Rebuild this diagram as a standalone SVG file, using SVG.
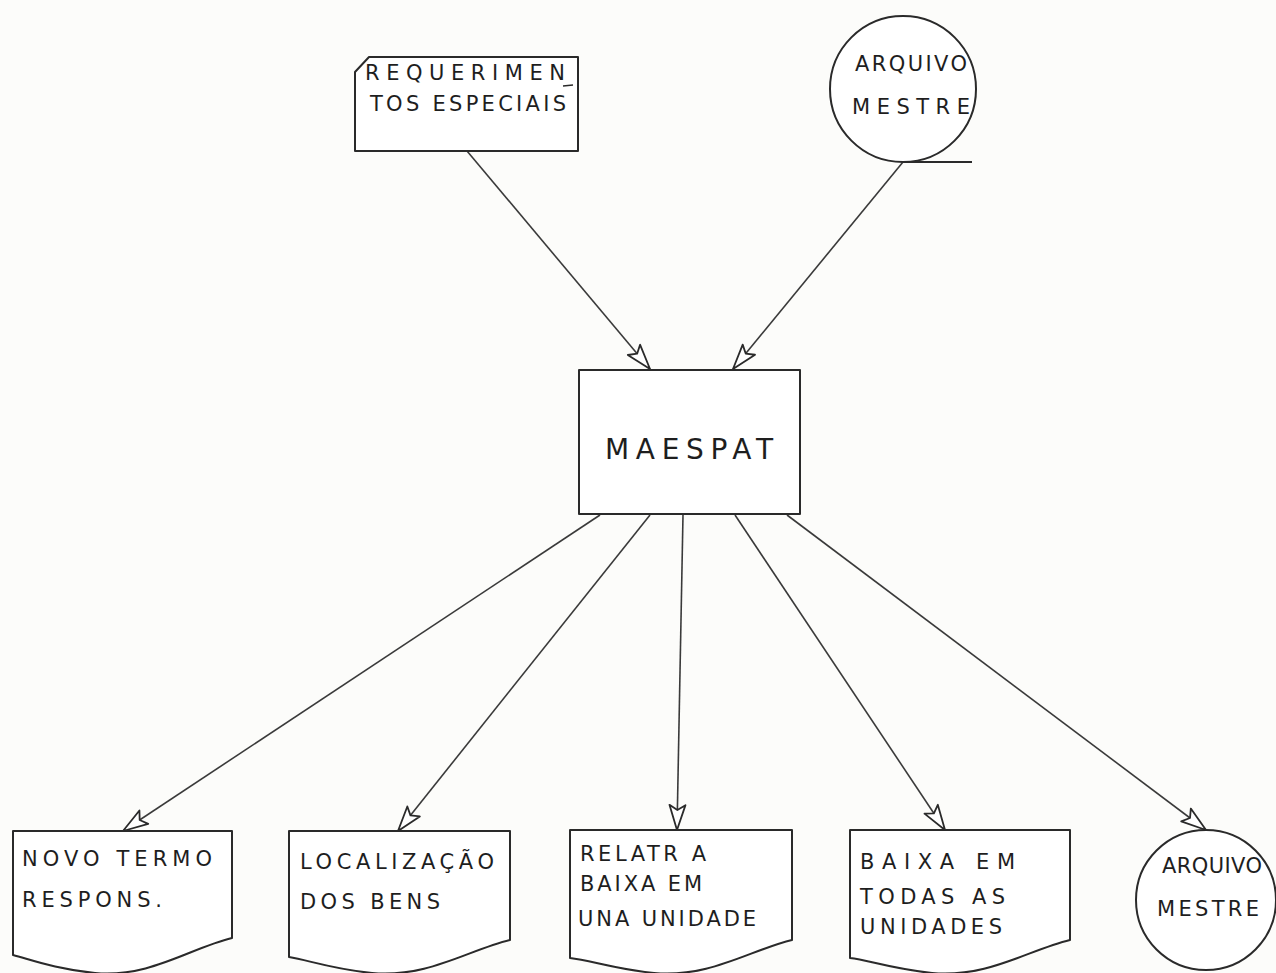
<svg xmlns="http://www.w3.org/2000/svg" width="1276" height="973" viewBox="0 0 1276 973">
  <style>
    .shape { fill: #ffffff; stroke: #2a2a2a; stroke-width: 2; stroke-linejoin: round; }
    .edge { fill: none; stroke: #3a3a3a; stroke-width: 1.6; }
    .lbl { font-family: "DejaVu Sans", "Liberation Sans", sans-serif; font-size: 21px; fill: #1e1e1e; }
    .big { font-family: "DejaVu Sans", "Liberation Sans", sans-serif; font-size: 28px; fill: #1e1e1e; }
  </style>
  <defs>
    <!-- open, kite-shaped arrowhead, tip at the end of the line -->
    <marker id="arrow" markerUnits="userSpaceOnUse" markerWidth="34" markerHeight="22" viewBox="0 0 34 22" refX="30" refY="11" orient="auto">
      <path d="M30,11 L5,3 L10,11 L5,19 Z" fill="#ffffff" stroke="#2a2a2a" stroke-width="1.8" stroke-linejoin="round"/>
    </marker>
  </defs>

  <rect x="0" y="0" width="1276" height="973" fill="#fcfcfa"/>

  <!-- connectors -->
  <g id="connectors">
    <line class="edge" x1="467" y1="151" x2="650" y2="369" marker-end="url(#arrow)"/>
    <line class="edge" x1="903" y1="162" x2="733" y2="369" marker-end="url(#arrow)"/>
    <line class="edge" x1="600" y1="515" x2="123" y2="831" marker-end="url(#arrow)"/>
    <line class="edge" x1="650" y1="515" x2="398" y2="831" marker-end="url(#arrow)"/>
    <line class="edge" x1="683" y1="515" x2="677" y2="830" marker-end="url(#arrow)"/>
    <line class="edge" x1="735" y1="515" x2="945" y2="830" marker-end="url(#arrow)"/>
    <line class="edge" x1="787" y1="515" x2="1206" y2="830" marker-end="url(#arrow)"/>
  </g>

  <!-- punched-card input -->
  <g id="requerimentos">
    <path class="shape" d="M369,57 H578 V151 H355 V72 Z"/>
    <text class="lbl" x="365" y="80" textLength="200" lengthAdjust="spacing">REQUERIMEN</text>
    <line x1="563" y1="86" x2="573" y2="85" stroke="#2a2a2a" stroke-width="1.6"/>
    <text class="lbl" x="370" y="111" textLength="196" lengthAdjust="spacing">TOS ESPECIAIS</text>
  </g>

  <!-- master file (input) -->
  <g id="arquivo-mestre-entrada">
    <circle class="shape" cx="903" cy="89" r="73"/>
    <line x1="903" y1="162" x2="972" y2="162" stroke="#2a2a2a" stroke-width="2"/>
    <text class="lbl" x="855" y="71" textLength="112" lengthAdjust="spacing">ARQUIVO</text>
    <text class="lbl" x="852" y="114" textLength="118" lengthAdjust="spacing">MESTRE</text>
  </g>

  <!-- program -->
  <g id="maespat">
    <rect class="shape" x="579" y="370" width="221" height="144"/>
    <text class="big" x="605" y="459" textLength="168" lengthAdjust="spacing">MAESPAT</text>
  </g>

  <!-- report outputs -->
  <g id="novo-termo">
    <path class="shape" d="M13,831 H232 V938 C190,948 150,978 95,973 C55,969 32,960 13,955 Z"/>
    <text class="lbl" x="22" y="866" textLength="190" lengthAdjust="spacing">NOVO TERMO</text>
    <text class="lbl" x="22" y="907" textLength="140" lengthAdjust="spacing">RESPONS.</text>
  </g>

  <g id="localizacao">
    <path class="shape" d="M289,831 H510 V940 C468,950 428,978 372,973 C332,969 308,960 289,957 Z"/>
    <text class="lbl" x="300" y="869" textLength="194" lengthAdjust="spacing">LOCALIZAÇÃO</text>
    <text class="lbl" x="300" y="909" textLength="140" lengthAdjust="spacing">DOS BENS</text>
  </g>

  <g id="relatorio-baixa-unidade">
    <path class="shape" d="M570,830 H792 V940 C750,950 710,978 654,973 C614,969 590,960 570,958 Z"/>
    <text class="lbl" x="580" y="861" textLength="126" lengthAdjust="spacing">RELATR A</text>
    <text class="lbl" x="580" y="891" textLength="122" lengthAdjust="spacing">BAIXA EM</text>
    <text class="lbl" x="578" y="926" textLength="178" lengthAdjust="spacing">UNA UNIDADE</text>
  </g>

  <g id="baixa-todas">
    <path class="shape" d="M850,830 H1070 V940 C1028,950 988,978 932,973 C892,969 868,960 850,958 Z"/>
    <text class="lbl" x="860" y="869" textLength="155" lengthAdjust="spacing">BAIXA EM</text>
    <text class="lbl" x="860" y="904" textLength="145" lengthAdjust="spacing">TODAS AS</text>
    <text class="lbl" x="860" y="934" textLength="142" lengthAdjust="spacing">UNIDADES</text>
  </g>

  <!-- master file (output) -->
  <g id="arquivo-mestre-saida">
    <circle class="shape" cx="1206" cy="900" r="70"/>
    <text class="lbl" x="1162" y="873" textLength="100" lengthAdjust="spacing">ARQUIVO</text>
    <text class="lbl" x="1157" y="916" textLength="102" lengthAdjust="spacing">MESTRE</text>
  </g>
</svg>
